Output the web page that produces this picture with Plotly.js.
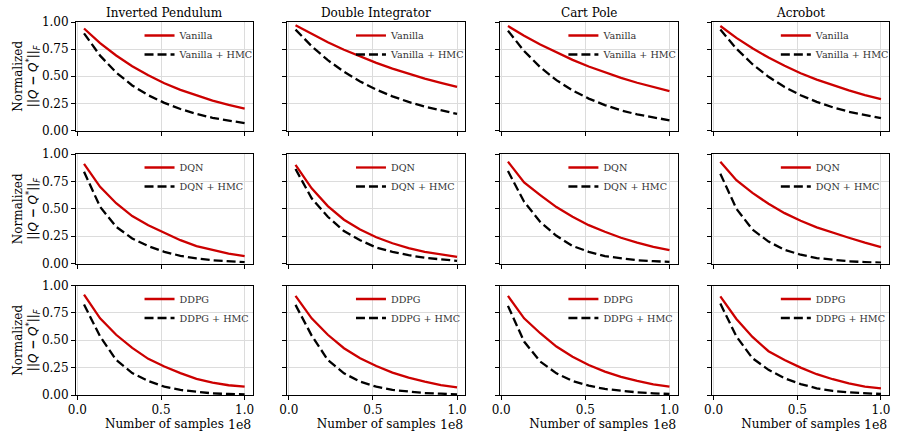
<!DOCTYPE html>
<html>
<head>
<meta charset="utf-8">
<script src="https://cdn.plot.ly/plotly-3.0.1.min.js"></script>
<style>html,body{margin:0;padding:0;background:#fff;}#chart{width:901px;height:431px;}</style>
</head>
<body>
<div id="chart"></div>
<script>
// Number of samples (units of 1e8)
const samples = [0.04, 0.136, 0.232, 0.328, 0.424, 0.52, 0.616, 0.712, 0.808, 0.904, 1.0];

const envTitles = ["Inverted Pendulum", "Double Integrator", "Cart Pole", "Acrobot"];
const methodNames = ["Vanilla", "DQN", "DDPG"];

// Row 1: Vanilla
const ipVanilla      = [0.94, 0.806, 0.691, 0.593, 0.509, 0.436, 0.374, 0.321, 0.275, 0.236, 0.202];
const ipVanillaHMC   = [0.895, 0.69, 0.535, 0.415, 0.325, 0.255, 0.198, 0.153, 0.117, 0.089, 0.067];
const diVanilla      = [0.97, 0.888, 0.813, 0.744, 0.681, 0.624, 0.571, 0.523, 0.478, 0.438, 0.401];
const diVanillaHMC   = [0.93, 0.777, 0.648, 0.541, 0.452, 0.377, 0.315, 0.263, 0.22, 0.183, 0.153];
const cpVanilla      = [0.963, 0.873, 0.792, 0.718, 0.651, 0.59, 0.535, 0.485, 0.44, 0.399, 0.362];
const cpVanillaHMC   = [0.92, 0.732, 0.583, 0.464, 0.369, 0.294, 0.234, 0.186, 0.148, 0.118, 0.094];
const acVanilla      = [0.963, 0.854, 0.758, 0.672, 0.596, 0.528, 0.469, 0.416, 0.369, 0.327, 0.29];
const acVanillaHMC   = [0.93, 0.754, 0.611, 0.495, 0.401, 0.325, 0.264, 0.214, 0.173, 0.14, 0.114];

// Row 2: DQN
const ipDQN      = [0.909, 0.70, 0.55, 0.433, 0.35, 0.28, 0.213, 0.159, 0.122, 0.091, 0.067];
const ipDQNHMC   = [0.838, 0.518, 0.335, 0.229, 0.159, 0.107, 0.07, 0.046, 0.03, 0.021, 0.012];
const diDQN      = [0.90, 0.686, 0.524, 0.40, 0.31, 0.24, 0.185, 0.14, 0.107, 0.082, 0.061];
const diDQNHMC   = [0.863, 0.595, 0.427, 0.296, 0.213, 0.146, 0.107, 0.076, 0.052, 0.037, 0.024];
const cpDQN      = [0.93, 0.74, 0.625, 0.515, 0.427, 0.35, 0.29, 0.235, 0.19, 0.152, 0.122];
const cpDQNHMC   = [0.845, 0.564, 0.38, 0.253, 0.16, 0.107, 0.067, 0.046, 0.03, 0.021, 0.015];
const acDQN      = [0.93, 0.76, 0.645, 0.545, 0.46, 0.39, 0.33, 0.28, 0.235, 0.19, 0.15];
const acDQNHMC   = [0.82, 0.5, 0.31, 0.2, 0.125, 0.08, 0.05, 0.032, 0.02, 0.013, 0.008];

// Row 3: DDPG
const ipDDPG     = [0.917, 0.70, 0.55, 0.43, 0.33, 0.26, 0.2, 0.147, 0.113, 0.089, 0.076];
const ipDDPGHMC  = [0.826, 0.535, 0.32, 0.2, 0.128, 0.076, 0.046, 0.028, 0.015, 0.009, 0.006];
const diDDPG     = [0.905, 0.70, 0.55, 0.427, 0.335, 0.265, 0.204, 0.159, 0.122, 0.091, 0.07];
const diDDPGHMC  = [0.823, 0.543, 0.32, 0.198, 0.122, 0.076, 0.046, 0.03, 0.018, 0.012, 0.006];
const cpDDPG     = [0.905, 0.70, 0.564, 0.442, 0.35, 0.274, 0.213, 0.165, 0.128, 0.098, 0.076];
const cpDDPGHMC  = [0.814, 0.488, 0.305, 0.198, 0.128, 0.085, 0.055, 0.037, 0.024, 0.015, 0.009];
const acDDPG     = [0.90, 0.694, 0.53, 0.40, 0.32, 0.25, 0.19, 0.144, 0.107, 0.076, 0.061];
const acDDPGHMC  = [0.835, 0.535, 0.336, 0.23, 0.153, 0.1, 0.061, 0.037, 0.024, 0.015, 0.009];

const baseSeries = [
  [ipVanilla, diVanilla, cpVanilla, acVanilla],
  [ipDQN, diDQN, cpDQN, acDQN],
  [ipDDPG, diDDPG, cpDDPG, acDDPG]
];
const hmcSeries = [
  [ipVanillaHMC, diVanillaHMC, cpVanillaHMC, acVanillaHMC],
  [ipDQNHMC, diDQNHMC, cpDQNHMC, acDQNHMC],
  [ipDDPGHMC, diDDPGHMC, cpDDPGHMC, acDDPGHMC]
];

const W = 901, H = 431;
const M = {l: 76, r: 6, t: 22, b: 36};
const PW = W - M.l - M.r, PH = H - M.t - M.b;
const colPx = [[76, 254], [289, 468], [503, 682], [717, 895]];
const rowPx = [[22, 130.5], [154, 263.5], [285.5, 395]];
const xDom = colPx.map(([a, b]) => [(a - M.l) / PW, Math.min(1, (b - M.l) / PW)]);
const yDom = rowPx.map(([a, b]) => [Math.max(0, (M.t + PH - b) / PH), Math.min(1, (M.t + PH - a) / PH)]);

const SERIF = "DejaVu Serif";
const RED = "#cc0000";
const traces = [];
const layout = {
  width: W, height: H,
  margin: M,
  paper_bgcolor: "#fff", plot_bgcolor: "#fff",
  font: {family: SERIF, size: 12, color: "#000"},
  showlegend: true,
  annotations: []
};

const ytitle = 'Normalized<br><span style="font-family:DejaVu Sans">||<i>Q</i> <b>−</b> <i>Q</i><sup>*</sup>||<sub><i>F</i></sub></span>';

for (let r = 0; r < 3; r++) {
  for (let c = 0; c < 4; c++) {
    const i = r * 4 + c;
    const sx = i === 0 ? "" : String(i + 1);
    const legKey = "legend" + sx;
    traces.push({
      x: samples, y: baseSeries[r][c], type: "scatter", mode: "lines",
      name: methodNames[r], xaxis: "x" + sx, yaxis: "y" + sx, legend: legKey,
      line: {color: RED, width: 2.3}
    });
    traces.push({
      x: samples, y: hmcSeries[r][c], type: "scatter", mode: "lines",
      name: methodNames[r] + " + HMC", xaxis: "x" + sx, yaxis: "y" + sx, legend: legKey,
      line: {color: "#000", width: 2.3, dash: "9px,4px"}
    });
    const xa = {
      domain: xDom[c], anchor: "y" + sx, range: [-0.008, 1.048],
      tick0: 0, dtick: 0.5, tickformat: ".1f",
      showticklabels: r === 2,
      ticks: "outside", ticklen: 4, tickwidth: 1, tickcolor: "#000",
      showline: true, mirror: true, linecolor: "#000", linewidth: 1,
      showgrid: true, gridcolor: "#dcdcdc", gridwidth: 1, zeroline: false,
      tickfont: {family: SERIF, size: 12, color: "#000"}
    };
    if (r === 2) xa.title = {text: "Number of samples", font: {family: SERIF, size: 12, color: "#000"}, standoff: 1};
    layout["xaxis" + sx] = xa;
    const ya = {
      domain: yDom[r], anchor: "x" + sx, range: [0, 1],
      tick0: 0, dtick: 0.25, tickformat: ".2f",
      showticklabels: c === 0,
      ticks: "outside", ticklen: 4, tickwidth: 1, tickcolor: "#000",
      showline: true, mirror: true, linecolor: "#000", linewidth: 1,
      showgrid: true, gridcolor: "#dcdcdc", gridwidth: 1, zeroline: false,
      tickfont: {family: SERIF, size: 12, color: "#000"}
    };
    if (c === 0) ya.title = {text: ytitle, font: {family: SERIF, size: 12, color: "#000"}, standoff: 0};
    layout["yaxis" + sx] = ya;
    layout[legKey] = {
      x: xDom[c][0] + 64 / PW, xanchor: "left",
      y: yDom[r][1] + 1 / PH, yanchor: "top",
      bgcolor: "rgba(0,0,0,0)", borderwidth: 0,
      font: {family: SERIF, size: 9.6, color: "#333"},
      tracegroupgap: 0
    };
  }
}

for (let c = 0; c < 4; c++) {
  layout.annotations.push({
    text: envTitles[c], xref: "paper", yref: "paper",
    x: (xDom[c][0] + xDom[c][1]) / 2, y: 1, xanchor: "center", yanchor: "bottom",
    yshift: 0, showarrow: false, font: {family: SERIF, size: 12, color: "#000"}
  });
  layout.annotations.push({
    text: "1e8", xref: "paper", yref: "paper",
    x: xDom[c][1], y: 0, xanchor: "right", yanchor: "top",
    yshift: -20, showarrow: false, font: {family: SERIF, size: 12.5, color: "#000"}
  });
}

Plotly.newPlot("chart", traces, layout, {displayModeBar: false, staticPlot: true});
</script>
</body>
</html>
